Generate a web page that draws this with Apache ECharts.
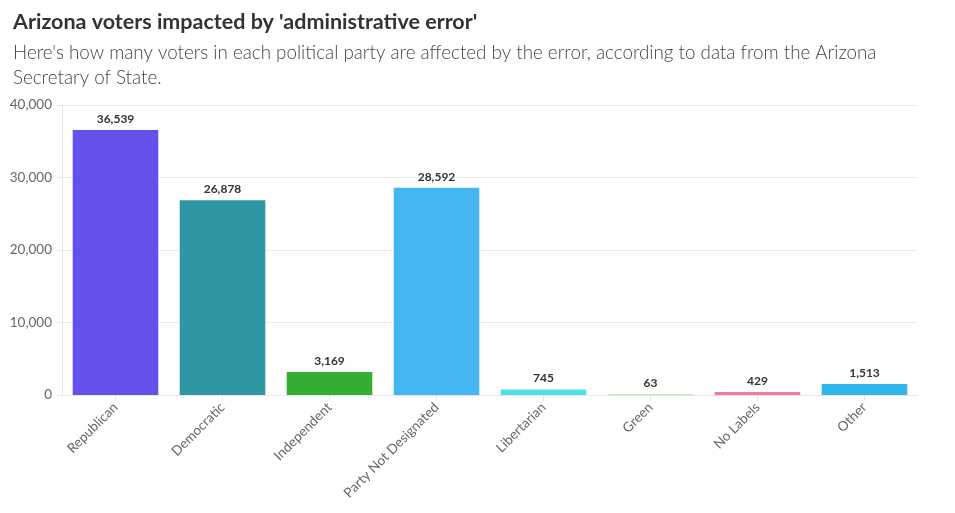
<!DOCTYPE html>
<html><head><meta charset="utf-8">
<script src="https://cdn.jsdelivr.net/npm/echarts@6/dist/echarts.min.js"></script>
<style>html,body{margin:0;padding:0;background:#fff}#c{width:955px;height:513px}</style>
</head><body><div id="c"></div>
<script>
const categories = ["Republican","Democratic","Independent","Party Not Designated","Libertarian","Green","No Labels","Other"];
const values = [36539, 26878, 3169, 28592, 745, 63, 429, 1513];
const colors = ["#6450ea","#2f96a3","#33ae33","#45b6f0","#4fe0e8","#c6ecc6","#f47a9b","#31b7e9"];
const yTicks = [0, 10000, 20000, 30000, 40000];
const title = "Arizona voters impacted by 'administrative error'";
const subtitle = "Here's how many voters in each political party are affected by the error, according to data from the Arizona\nSecretary of State.";
const FONT = "Lato";
const chart = echarts.init(document.getElementById('c'));
chart.setOption({
  animation: false,
  textStyle: {fontFamily: FONT},
  title: [
    {text: title, left: 8, top: 6, textStyle: {fontFamily: FONT, fontSize: 21.5, fontWeight: 'bold', color: '#333'}},
    {text: subtitle, left: 8, top: 35, textStyle: {fontFamily: FONT, fontSize: 18.8, fontWeight: 300, color: '#444', lineHeight: 25}}
  ],
  grid: {left: 62, right: 37, top: 105, bottom: 118},
  xAxis: {
    type: 'category', data: categories,
    axisLine: {lineStyle: {color: '#e6e6e6'}},
    axisTick: {show: true, alignWithLabel: true, length: 6, lineStyle: {color: '#e6e6e6'}},
    axisLabel: {rotate: 45, fontSize: 13.5, color: '#666', fontFamily: FONT, margin: 10}
  },
  yAxis: {
    type: 'value', min: yTicks[0], max: yTicks[yTicks.length - 1], interval: yTicks[1] - yTicks[0],
    axisLine: {show: true, lineStyle: {color: '#e6e6e6'}},
    axisTick: {show: true, length: 5, lineStyle: {color: '#e6e6e6'}},
    splitLine: {lineStyle: {color: '#ececec'}},
    axisLabel: {fontSize: 13.5, color: '#666', fontFamily: FONT, margin: 10,
      formatter: v => v.toLocaleString('en-US')}
  },
  series: [{
    type: 'bar', barCategoryGap: '20%',
    data: values.map((v, i) => ({value: v, itemStyle: {color: colors[i], borderColor: colors[i], borderWidth: 1.5}})),
    label: {show: true, position: 'top', fontSize: 12, fontWeight: 'bold', color: '#333', fontFamily: FONT,
      distance: 5, formatter: p => p.value.toLocaleString('en-US')}
  }]
});
</script></body></html>
